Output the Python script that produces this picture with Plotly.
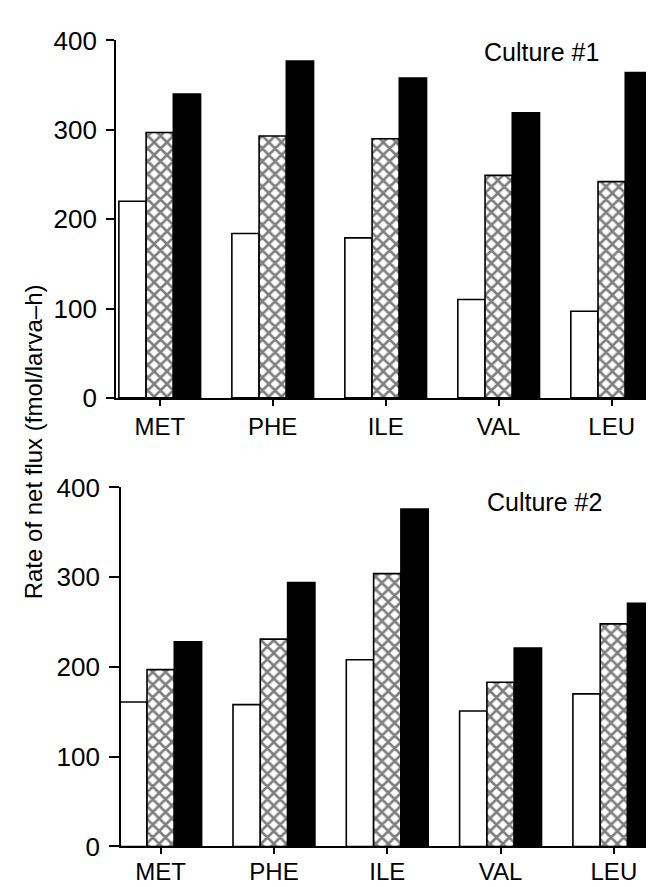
import plotly.graph_objects as go

categories = ["MET", "PHE", "ILE", "VAL", "LEU"]
c1_open = [220, 184, 179, 110, 97]
c1_hatched = [297, 293, 290, 249, 242]
c1_solid = [340, 377, 358, 319, 364]
c2_open = [161, 158, 208, 151, 170]
c2_hatched = [197, 231, 304, 183, 248]
c2_solid = [228, 294, 376, 221, 271]
y_ticks = [0, 100, 200, 300, 400]
panel_labels = ["Culture #1", "Culture #2"]
y_title = "Rate of net flux (fmol/larva\u2013h)"

W, H = 654, 887
FONT = "Liberation Sans, Arial, Helvetica, sans-serif"


def bars(xa, ya, vals_open, vals_hatch, vals_solid):
    line = dict(color="black", width=1.6)
    return [
        go.Bar(x=categories, y=vals_open, xaxis=xa, yaxis=ya,
               marker=dict(color="white", line=line), showlegend=False),
        go.Bar(x=categories, y=vals_hatch, xaxis=xa, yaxis=ya,
               marker=dict(color="white", line=line,
                           pattern=dict(shape="x", fgcolor="black", bgcolor="white",
                                        size=9, solidity=0.5, fillmode="overlay")),
               showlegend=False),
        go.Bar(x=categories, y=vals_solid, xaxis=xa, yaxis=ya,
               marker=dict(color="black", line=line), showlegend=False),
    ]


fig = go.Figure(bars("x", "y", c1_open, c1_hatched, c1_solid) +
                bars("x2", "y2", c2_open, c2_hatched, c2_solid))

xcommon = dict(type="category", showline=True, linecolor="black", linewidth=1.8,
               ticks="outside", ticklen=6, tickwidth=1.6, tickcolor="black",
               showgrid=False, zeroline=False,
               tickfont=dict(family=FONT, size=24, color="black"))
ycommon = dict(range=[0, 400], tickvals=y_ticks, showline=True, linecolor="black",
               linewidth=1.8, ticks="outside", tickwidth=1.6, tickcolor="black",
               showgrid=False, zeroline=False, ticklabelstandoff=4,
               tickfont=dict(family=FONT, size=26, color="black"))

fig.update_layout(
    width=W, height=H,
    margin=dict(l=0, r=0, t=0, b=0),
    paper_bgcolor="white", plot_bgcolor="white",
    barmode="group", bargap=0.277, bargroupgap=0,
    xaxis=dict(xcommon, domain=[108 / W, 652 / W], range=[-0.387, 4.428], anchor="y"),
    yaxis=dict(ycommon, domain=[1 - 388 / H, 1 - 18 / H], ticklen=8, anchor="x"),
    xaxis2=dict(xcommon, domain=[113 / W, 653 / W], range=[-0.35, 4.416], anchor="y2",
                ticklabelstandoff=-3),
    yaxis2=dict(ycommon, domain=[1 - 852.3 / H, 1 - 480.7 / H], ticklen=10, anchor="x2"),
    annotations=[
        dict(text=y_title, x=25 / W, y=1 - 434 / H, xref="paper", yref="paper",
             textangle=-90, showarrow=False, xanchor="center", yanchor="middle",
             font=dict(family=FONT, size=24, color="black")),
        dict(text=panel_labels[0], x=533 / W, y=1 - 30 / H, xref="paper", yref="paper",
             showarrow=False, xanchor="center", yanchor="middle",
             font=dict(family=FONT, size=25, color="black")),
        dict(text=panel_labels[1], x=536 / W, y=1 - 496 / H, xref="paper", yref="paper",
             showarrow=False, xanchor="center", yanchor="middle",
             font=dict(family=FONT, size=25, color="black")),
    ],
)

fig.write_html("out.html")
